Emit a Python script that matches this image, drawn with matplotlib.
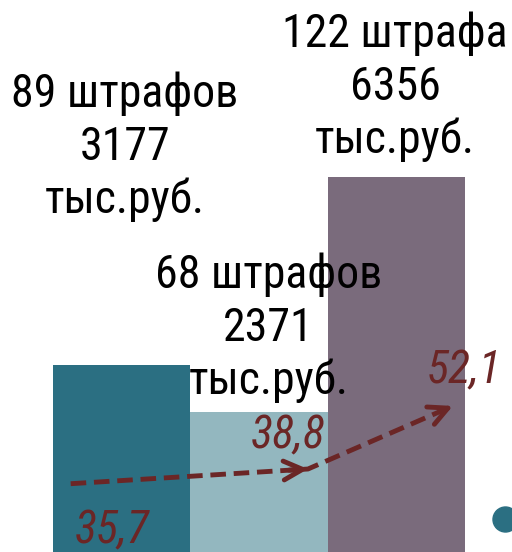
import numpy as np
import matplotlib
matplotlib.use("Agg")
import matplotlib.pyplot as plt
from matplotlib import font_manager

# data
counts = [89, 68, 122]
amounts = [3177, 2371, 6356]
count_words = ["штрафов", "штрафов", "штрафа"]
unit = "тыс.руб."
shares = [35.7, 38.8, 52.1]

bar_colors = ["#2b6f82", "#93b7bf", "#7a6b7c"]
line_color = "#6b2626"

# pick a narrow font similar to Arial Narrow
names = {f.name for f in font_manager.fontManager.ttflist}
narrow = [n for n in ["Liberation Sans Narrow", "Roboto Condensed", "PT Sans Narrow",
                      "Archivo Narrow", "Fira Sans Condensed", "Sofia Sans Condensed"]
          if n in names]
plt.rcParams["font.family"] = narrow[:1] + ["DejaVu Sans"]

fig = plt.figure(figsize=(5.12, 5.52), dpi=100)
ax = fig.add_axes([0, 0, 1, 1])
ax.set_xlim(-0.884, 2.84)
ax.set_ylim(0, 9356)
ax.axis("off")

x = np.arange(len(amounts))
ax.bar(x, amounts, width=1.0, color=bar_colors, zorder=1)

# labels above bars, one line at a time
label_pos = [(0.025, 7542), (1.07, 4475), (1.99, 8559)]
step = 898
for (lx, ly), c, w, a in zip(label_pos, counts, count_words, amounts):
    for k, line in enumerate([f"{c} {w}", f"{a}", unit]):
        ax.text(lx, ly - k * step, line, ha="center", va="baseline",
                fontsize=33, color="black", zorder=3)

# line with the shares on a second scale
ax2 = ax.twinx()
ax2.set_ylim(21.3, 137.7)
ax2.axis("off")
lx = x + np.array([-0.37, 0.356, 0.41])
ax2.plot(lx, shares, linestyle=(0, (3.2, 1.6)), lw=3.5, color=line_color,
         zorder=4)
for i in range(1, len(shares)):
    x0, y0 = lx[i - 1], shares[i - 1]
    x1, y1 = lx[i], shares[i]
    ax2.annotate("", xy=(x1, y1),
                 xytext=(x1 - 0.08 * (x1 - x0), y1 - 0.08 * (y1 - y0)),
                 arrowprops=dict(arrowstyle="->", lw=3.5, color=line_color,
                                 mutation_scale=34, shrinkA=0, shrinkB=0))

share_pos = [(-0.07, 153), (1.21, 1763), (2.49, 2864)]
for (sx, sy), s in zip(share_pos, shares):
    ax.text(sx, sy, f"{s:.1f}".replace(".", ","), ha="center", va="baseline",
            fontsize=33, style="italic", color=line_color, zorder=5)

# decorative dot
ax.scatter([2.789], [559], s=324, color=bar_colors[0], clip_on=False, zorder=5)

fig.savefig("out.png", dpi=100)
